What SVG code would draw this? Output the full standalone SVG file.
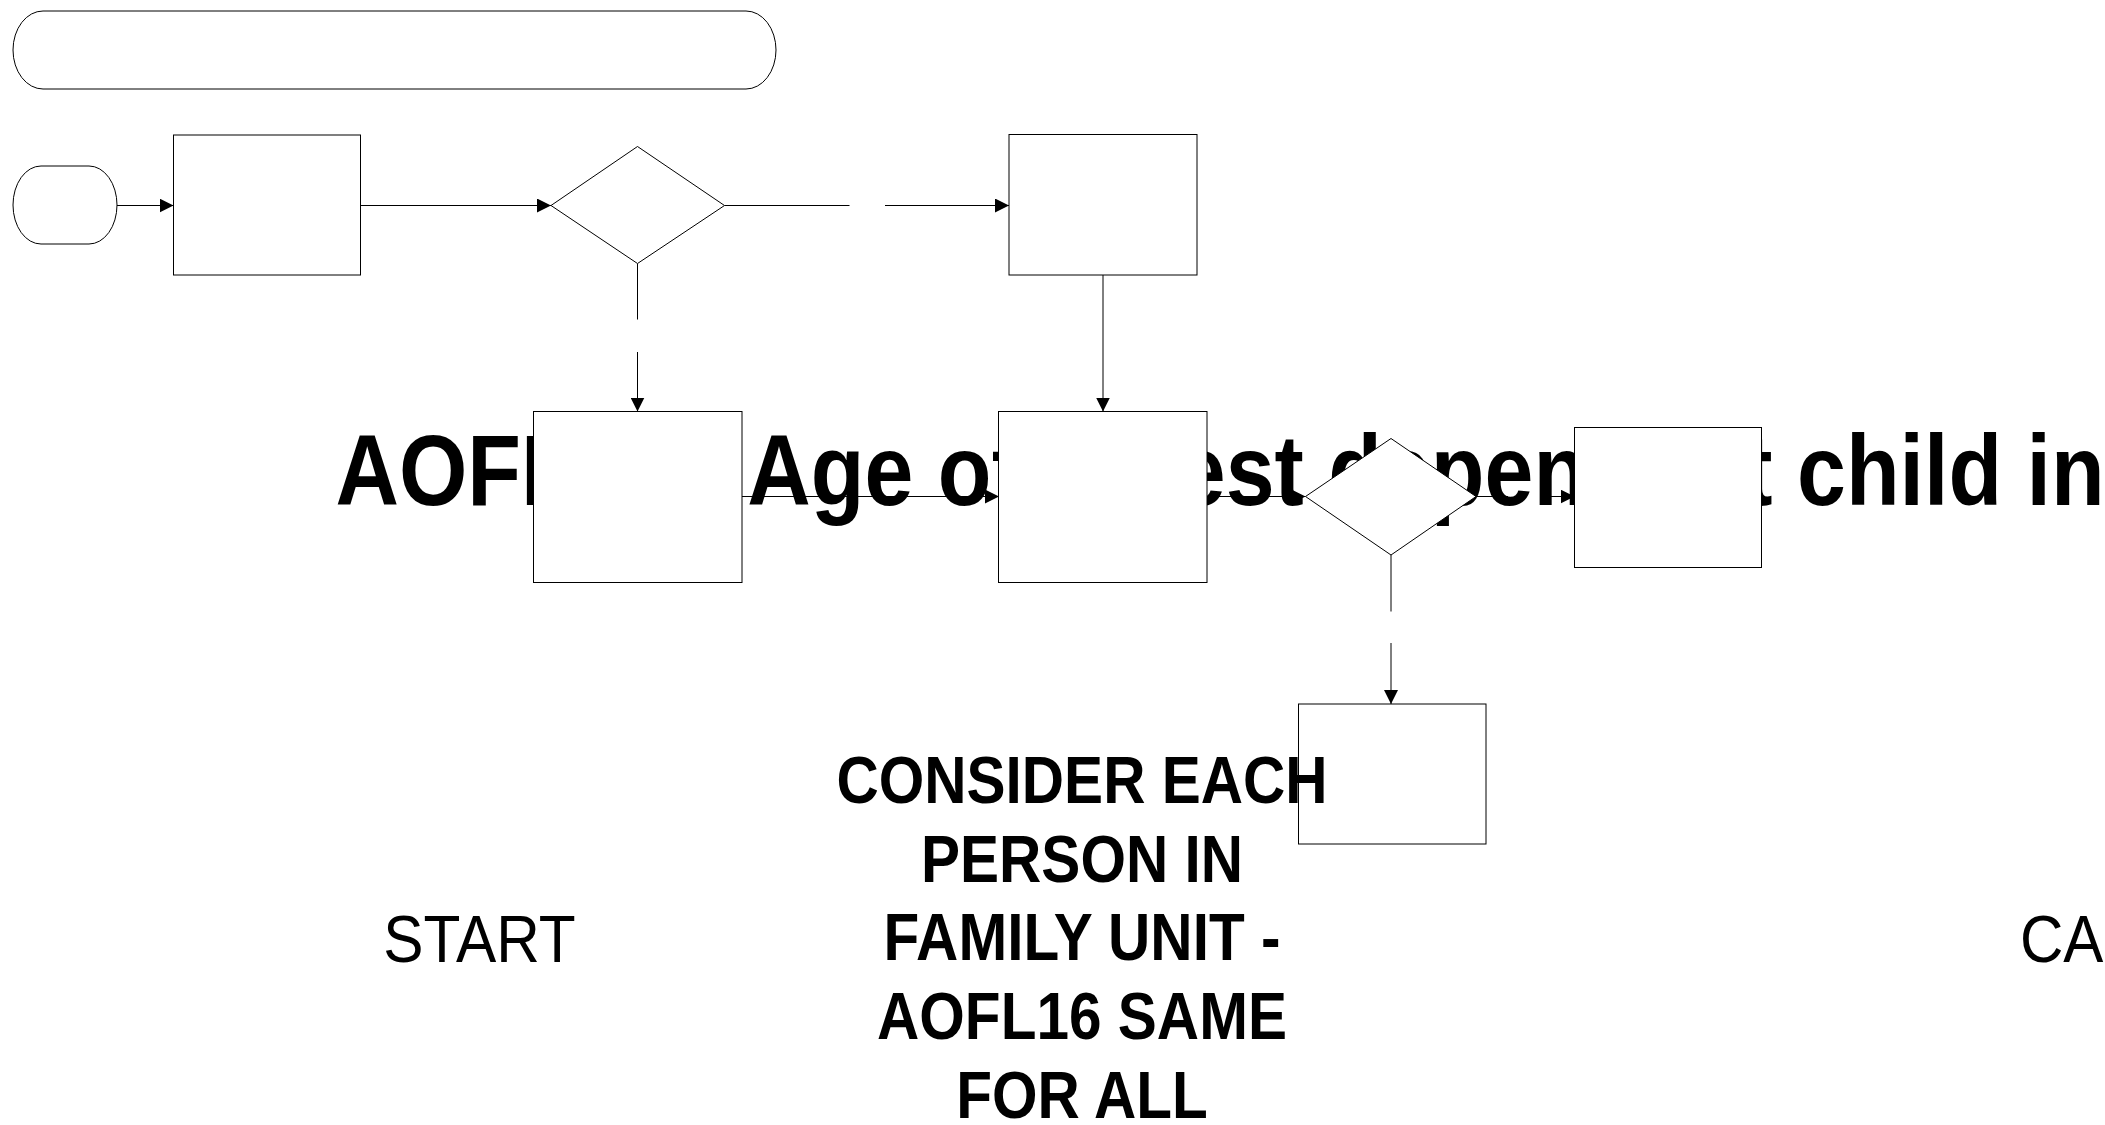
<svg xmlns="http://www.w3.org/2000/svg" width="2105" height="1125" viewBox="0 0 2105 1125">
<style>
.n{fill:#fff;stroke:#000;stroke-width:1}
.c{fill:none;stroke:#000;stroke-width:1}
.t{font-family:"Liberation Sans",Arial,sans-serif;fill:#000}
.b{font-weight:bold}
</style>
<defs>
<marker id="ah" markerUnits="userSpaceOnUse" markerWidth="14" markerHeight="14" refX="14" refY="7" orient="auto">
<path d="M0,0 L14,7 L0,14 z" fill="#000"/>
</marker>
</defs>
<rect width="2105" height="1125" fill="#fff"/>
<g id="title-label">
<text class="t b" font-size="100" transform="translate(335.5,505) scale(0.879,1)">AOFL16 - Age of oldest dependent child in</text>
</g>
<g id="connectors">
<path class="c" d="M117,205.5 H173.5" marker-end="url(#ah)"/>
<path class="c" d="M360.5,205.5 H551" marker-end="url(#ah)"/>
<path class="c" d="M724.5,205.5 H849.5"/>
<path class="c" d="M885,205.5 H1009" marker-end="url(#ah)"/>
<path class="c" d="M637.5,263.5 V319.5"/>
<path class="c" d="M637.5,352 V411.5" marker-end="url(#ah)"/>
<path class="c" d="M1103,275 V411.5" marker-end="url(#ah)"/>
<path class="c" d="M742,496.5 H999" marker-end="url(#ah)"/>
<path class="c" d="M1207,496.5 H1305.5" marker-end="url(#ah)"/>
<path class="c" d="M1476,496.5 H1508"/>
<path class="c" d="M1542,496.5 H1574.5" marker-end="url(#ah)"/>
<path class="c" d="M1391,555 V611.5"/>
<path class="c" d="M1391,643 V704" marker-end="url(#ah)"/>
</g>
<g id="title-bar"><rect class="n" x="13" y="11" width="763" height="78" rx="30" ry="39"/></g>
<g id="start"><rect class="n" x="13" y="166" width="104" height="78" rx="28" ry="39"/></g>
<g id="box1"><rect class="n" x="173.5" y="135" width="187" height="140"/></g>
<g id="decision1"><polygon class="n" points="637.5,146.5 724.5,205.5 637.5,263.5 551,205.5"/></g>
<g id="box2"><rect class="n" x="1009" y="134.5" width="188" height="140.5"/></g>
<g id="box3"><rect class="n" x="533.5" y="411.5" width="208.5" height="171"/></g>
<g id="box4"><rect class="n" x="998.5" y="411.5" width="208.5" height="171"/></g>
<g id="decision2"><polygon class="n" points="1391,438.5 1476,496.5 1391,555 1305.5,496.5"/></g>
<g id="box5"><rect class="n" x="1574.5" y="427.5" width="187" height="140"/></g>
<g id="box6"><rect class="n" x="1298.5" y="704" width="187.5" height="140"/></g>
<g id="labels">
<g class="t b" font-size="66.7" text-anchor="middle">
<text transform="translate(1082,803) scale(0.878,1)">CONSIDER EACH</text>
<text transform="translate(1082,881.5) scale(0.878,1)">PERSON IN</text>
<text transform="translate(1082,960.3) scale(0.878,1)">FAMILY UNIT -</text>
<text transform="translate(1082,1039) scale(0.878,1)">AOFL16 SAME</text>
<text transform="translate(1082,1117.7) scale(0.878,1)">FOR ALL</text>
</g>
<text class="t" font-size="66.7" text-anchor="middle" transform="translate(479.5,961.5) scale(0.905,1)">START</text>
<text class="t" font-size="66.7" transform="translate(2020,961.5) scale(0.9,1)">CA</text>
</g>
</svg>
